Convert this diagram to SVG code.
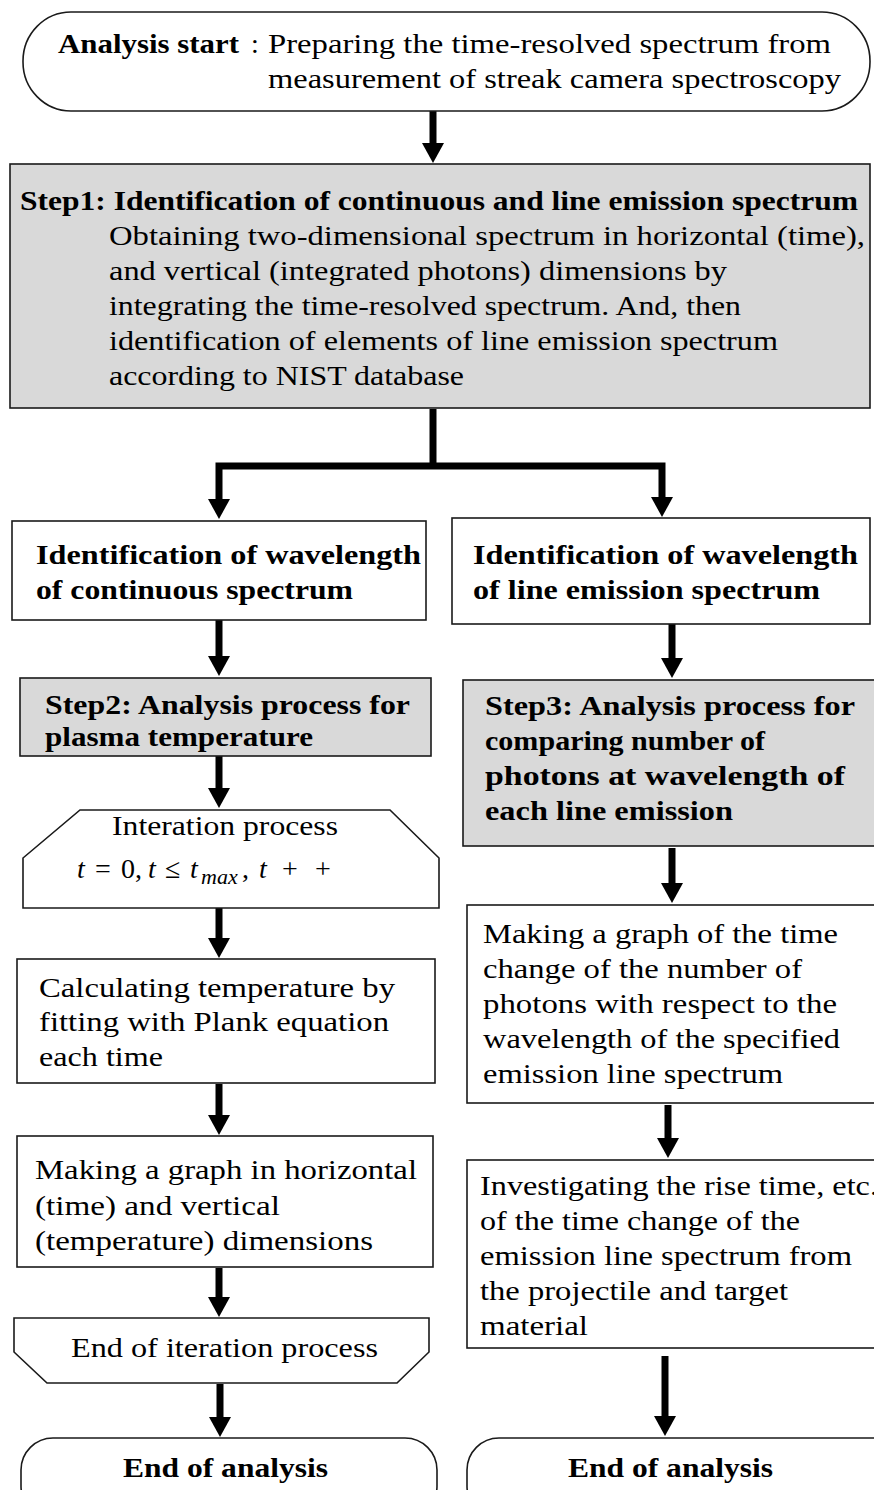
<svg xmlns="http://www.w3.org/2000/svg" width="874" height="1490" viewBox="0 0 874 1490">
<style>
.box{fill:#fff;stroke:#1a1a1a;stroke-width:1.6}
.gray{fill:#d9d9d9;stroke:#1a1a1a;stroke-width:1.6}
.t{font-family:"Liberation Serif","Times New Roman",serif;font-size:28px;fill:#000}
.b{font-weight:bold}
.i{font-style:italic}
.conn{fill:none;stroke:#000;stroke-width:7}
.arr{marker-end:url(#ah)}
</style>
<defs>
<marker id="ah" markerUnits="userSpaceOnUse" markerWidth="20" markerHeight="22" viewBox="0 0 20 22" refX="0" refY="11" orient="auto">
<path d="M0,0 L20,11 L0,22 z" fill="#000"/>
</marker>
</defs>
<rect width="874" height="1490" fill="#fff"/>

<g id="connectors">
<path class="conn arr" d="M433,111 V143"/>
<path class="conn" d="M433,409 V466"/>
<path class="conn arr" d="M433,466 H219 V499"/>
<path class="conn arr" d="M433,466 H662 V497"/>
<path class="conn arr" d="M219,620 V656"/>
<path class="conn arr" d="M219,756 V788"/>
<path class="conn arr" d="M219,908 V938"/>
<path class="conn arr" d="M219,1084 V1115"/>
<path class="conn arr" d="M219,1268 V1297"/>
<path class="conn arr" d="M220,1384 V1417"/>
<path class="conn arr" d="M672,624 V658"/>
<path class="conn arr" d="M672,848 V883"/>
<path class="conn arr" d="M668,1105 V1138"/>
<path class="conn arr" d="M665,1356 V1416"/>
</g>

<g id="start">
<rect class="box" x="23" y="12" width="847" height="99" rx="48" ry="49"/>
<text class="t b" x="58" y="53" textLength="181" lengthAdjust="spacingAndGlyphs">Analysis start</text>
<text class="t" x="251" y="53">:</text>
<text class="t" x="268" y="53" textLength="563" lengthAdjust="spacingAndGlyphs">Preparing the time-resolved spectrum from</text>
<text class="t" x="268" y="88" textLength="573" lengthAdjust="spacingAndGlyphs">measurement of streak camera spectroscopy</text>
</g>

<g id="step1">
<rect class="gray" x="10" y="164" width="860" height="244"/>
<text class="t b" x="20" y="210" textLength="838" lengthAdjust="spacingAndGlyphs">Step1: Identification of continuous and line emission spectrum</text>
<text class="t" x="109" y="245" textLength="756" lengthAdjust="spacingAndGlyphs">Obtaining two-dimensional spectrum in horizontal (time),</text>
<text class="t" x="109" y="280" textLength="618" lengthAdjust="spacingAndGlyphs">and vertical (integrated photons) dimensions by</text>
<text class="t" x="109" y="315" textLength="632" lengthAdjust="spacingAndGlyphs">integrating the time-resolved spectrum. And, then</text>
<text class="t" x="109" y="350" textLength="669" lengthAdjust="spacingAndGlyphs">identification of elements of line emission spectrum</text>
<text class="t" x="109" y="385" textLength="355" lengthAdjust="spacingAndGlyphs">according to NIST database</text>
</g>

<g id="cont-wavelength">
<rect class="box" x="12" y="521" width="414" height="99"/>
<text class="t b" x="36" y="564" textLength="385" lengthAdjust="spacingAndGlyphs">Identification of wavelength</text>
<text class="t b" x="36" y="599" textLength="317" lengthAdjust="spacingAndGlyphs">of continuous spectrum</text>
</g>

<g id="line-wavelength">
<rect class="box" x="452" y="518" width="418" height="106"/>
<text class="t b" x="473" y="564" textLength="385" lengthAdjust="spacingAndGlyphs">Identification of wavelength</text>
<text class="t b" x="473" y="599" textLength="347" lengthAdjust="spacingAndGlyphs">of line emission spectrum</text>
</g>

<g id="step2">
<rect class="gray" x="20" y="678" width="411" height="78"/>
<text class="t b" x="45" y="714" textLength="365" lengthAdjust="spacingAndGlyphs">Step2: Analysis process for</text>
<text class="t b" x="45" y="746" textLength="268" lengthAdjust="spacingAndGlyphs">plasma temperature</text>
</g>

<g id="iteration-start">
<path class="box" d="M80,810 H390 L439,858 V908 H23 V858 Z"/>
<text class="t" x="112" y="835" textLength="226" lengthAdjust="spacingAndGlyphs">Interation process</text>
<text class="t" y="878" font-size="31"><tspan class="i" x="77">t</tspan><tspan x="95">=</tspan><tspan x="121">0,</tspan><tspan class="i" x="148">t</tspan><tspan x="165">≤</tspan><tspan class="i" x="190">t</tspan><tspan class="i" x="201" dy="6" font-size="22">max</tspan><tspan x="242" dy="-6">,</tspan><tspan class="i" x="259">t</tspan><tspan x="282">+</tspan><tspan x="315">+</tspan></text>
</g>

<g id="calc-temp">
<rect class="box" x="17" y="959" width="418" height="124"/>
<text class="t" x="39" y="997" textLength="356" lengthAdjust="spacingAndGlyphs">Calculating temperature by</text>
<text class="t" x="39" y="1031" textLength="350" lengthAdjust="spacingAndGlyphs">fitting with Plank equation</text>
<text class="t" x="39" y="1066" textLength="124" lengthAdjust="spacingAndGlyphs">each time</text>
</g>

<g id="graph-temp">
<rect class="box" x="17" y="1136" width="416" height="131"/>
<text class="t" x="35" y="1179" textLength="382" lengthAdjust="spacingAndGlyphs">Making a graph in horizontal</text>
<text class="t" x="35" y="1215" textLength="245" lengthAdjust="spacingAndGlyphs">(time)  and vertical</text>
<text class="t" x="35" y="1250" textLength="338" lengthAdjust="spacingAndGlyphs">(temperature) dimensions</text>
</g>

<g id="iteration-end">
<path class="box" d="M14,1318 H429 V1352 L397,1383 H47 L14,1352 Z"/>
<text class="t" x="71" y="1357" textLength="307" lengthAdjust="spacingAndGlyphs">End of iteration process</text>
</g>

<g id="end-left">
<rect class="box" x="21" y="1438" width="416" height="80" rx="32" ry="32"/>
<text class="t b" x="123" y="1477" textLength="205" lengthAdjust="spacingAndGlyphs">End of analysis</text>
</g>

<g id="step3">
<rect class="gray" x="463" y="680" width="420" height="166"/>
<text class="t b" x="485" y="715" textLength="370" lengthAdjust="spacingAndGlyphs">Step3: Analysis process for</text>
<text class="t b" x="485" y="750" textLength="280" lengthAdjust="spacingAndGlyphs">comparing number of</text>
<text class="t b" x="485" y="785" textLength="360" lengthAdjust="spacingAndGlyphs">photons at wavelength of</text>
<text class="t b" x="485" y="820" textLength="248" lengthAdjust="spacingAndGlyphs">each line emission</text>
</g>

<g id="graph-photons">
<rect class="box" x="467" y="905" width="416" height="198"/>
<text class="t" x="483" y="943" textLength="355" lengthAdjust="spacingAndGlyphs">Making a graph of the time</text>
<text class="t" x="483" y="978" textLength="319" lengthAdjust="spacingAndGlyphs">change of the number of</text>
<text class="t" x="483" y="1013" textLength="354" lengthAdjust="spacingAndGlyphs">photons with respect to the</text>
<text class="t" x="483" y="1048" textLength="357" lengthAdjust="spacingAndGlyphs">wavelength of the specified</text>
<text class="t" x="483" y="1083" textLength="300" lengthAdjust="spacingAndGlyphs">emission line spectrum</text>
</g>

<g id="rise-time">
<rect class="box" x="467" y="1160" width="416" height="188"/>
<text class="t" x="480" y="1195" textLength="398" lengthAdjust="spacingAndGlyphs">Investigating the rise time, etc.</text>
<text class="t" x="480" y="1230" textLength="320" lengthAdjust="spacingAndGlyphs">of the time change of the</text>
<text class="t" x="480" y="1265" textLength="372" lengthAdjust="spacingAndGlyphs">emission line spectrum from</text>
<text class="t" x="480" y="1300" textLength="308" lengthAdjust="spacingAndGlyphs">the projectile and target</text>
<text class="t" x="480" y="1335" textLength="108" lengthAdjust="spacingAndGlyphs">material</text>
</g>

<g id="end-right">
<rect class="box" x="467" y="1438" width="440" height="80" rx="32" ry="32"/>
<text class="t b" x="568" y="1477" textLength="205" lengthAdjust="spacingAndGlyphs">End of analysis</text>
</g>
</svg>
